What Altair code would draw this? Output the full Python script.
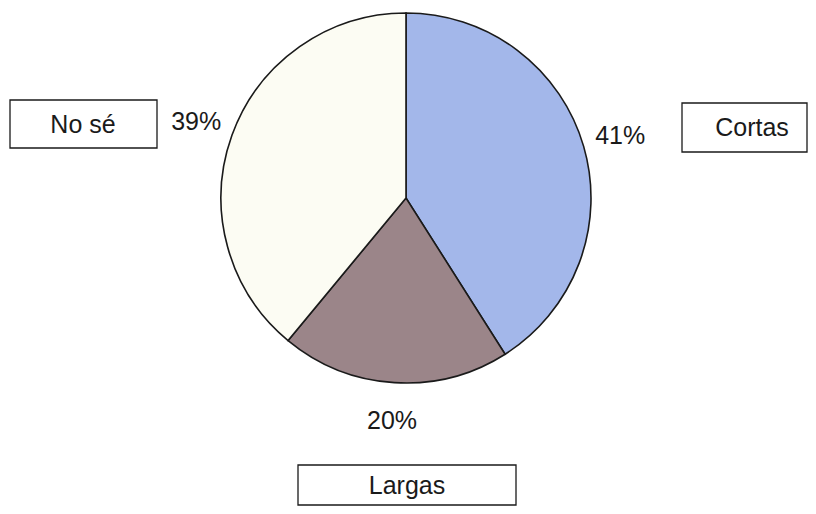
import altair as alt
import pandas as pd

# ---- data ----
categories = ["Cortas", "Largas", "No sé"]
percentages = [41, 20, 39]
slice_order = [0, 1, 2]
colors = ["#a3b7ea", "#9b8589", "#fcfcf3"]

# ---- annotation box layout (pixels inside the plot area) ----
box_x1 = [674, 290, 2]
box_x2 = [799, 508, 149]
box_y1 = [95, 457, 92]
box_y2 = [144, 497, 140]
label_x = [744, 399, 75]
label_y = [120, 478, 117]

W, H = 800, 498
CX, CY, R = 398, 190, 185
FONT = "Liberation Sans"

df = pd.DataFrame({"cat": categories, "pct": percentages, "ord": slice_order})
df["label"] = df["pct"].astype(str) + "%"

boxes = pd.DataFrame({
    "cat": categories,
    "x1": box_x1, "x2": box_x2, "y1": box_y1, "y2": box_y2,
    "lx": label_x, "ly": label_y,
})

base = alt.Chart(df).encode(
    theta=alt.Theta("pct:Q", stack=True),
    order=alt.Order("ord:Q"),
)

pie = base.mark_arc(radius=R, stroke="#1a1a1a", strokeWidth=1.6).encode(
    color=alt.Color("cat:N", scale=alt.Scale(domain=categories, range=colors), legend=None),
    x=alt.value(CX),
    y=alt.value(CY),
)

pct_text = base.mark_text(
    radius=223, fontSize=25, font=FONT, color="#1a1a1a", baseline="middle", align="center"
).encode(
    text="label:N",
    x=alt.value(CX),
    y=alt.value(CY),
)

rects = alt.Chart(boxes).mark_rect(
    fill="white", stroke="#1a1a1a", strokeWidth=1.3
).encode(
    x=alt.X("x1:Q", scale=None),
    x2="x2:Q",
    y=alt.Y("y1:Q", scale=None),
    y2="y2:Q",
)

box_text = alt.Chart(boxes).mark_text(
    fontSize=25, font=FONT, color="#1a1a1a", baseline="middle", align="center"
).encode(
    x=alt.X("lx:Q", scale=None),
    y=alt.Y("ly:Q", scale=None),
    text="cat:N",
)

chart = alt.layer(pie, pct_text, rects, box_text).properties(
    width=W,
    height=H,
    autosize=alt.AutoSizeParams(type="none"),
    padding=0,
    background="white",
).configure_view(stroke=None)

chart.save("out.html", embed_options={"renderer": "svg", "actions": False})
